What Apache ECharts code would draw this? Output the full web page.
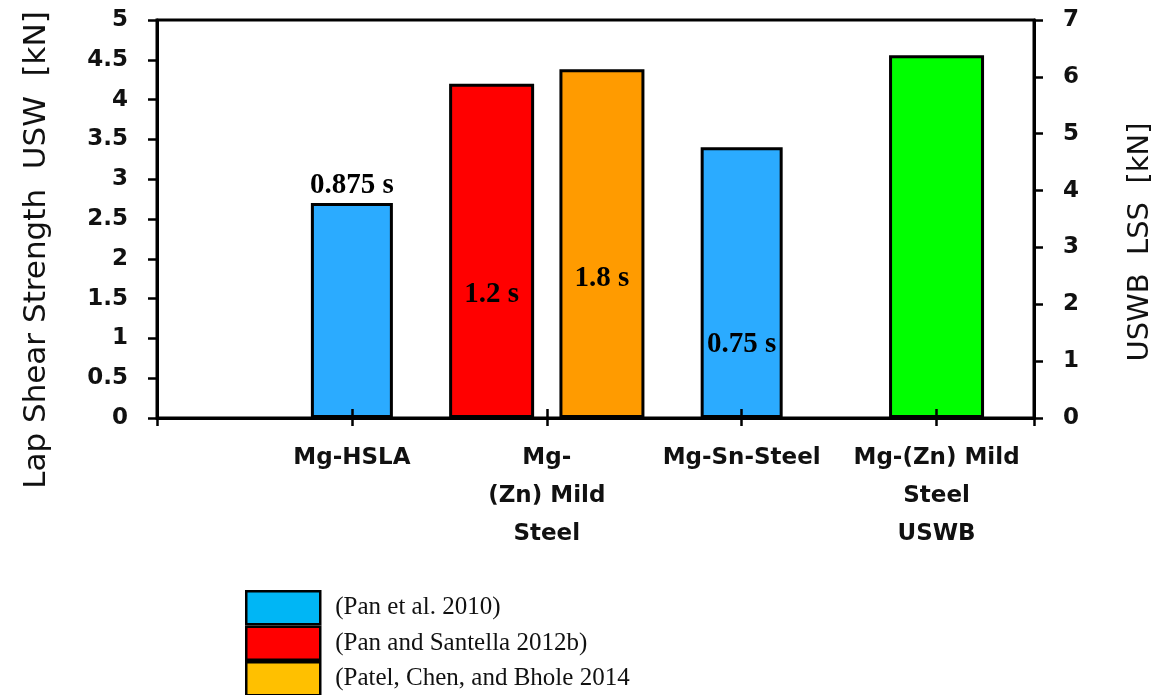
<!DOCTYPE html>
<html>
<head>
<meta charset="utf-8">
<script src="https://cdn.jsdelivr.net/npm/echarts@6/dist/echarts.min.js"></script>
<style>
  html, body { margin: 0; padding: 0; background: #fff; }
  #chart { width: 1163px; height: 695px; }
</style>
</head>
<body>
<div id="chart"></div>
<script>
// Joint categories along the x axis (slot 0 is left empty)
const categories = ['', 'Mg-HSLA', 'Mg-\n(Zn) Mild\nSteel', 'Mg-Sn-Steel', 'Mg-(Zn) Mild\nSteel\nUSWB'];

// Sources shown in the legend
const sourceNames = ['(Pan et al. 2010)', '(Pan and Santella 2012b)', '(Patel, Chen, and Bhole 2014'];

// Lap shear strength, USW [kN] (left axis)
const panSlots = [1, 3];
const panValues = [2.7, 3.4];
const panTimes = ['0.875 s', '0.75 s'];

const santellaSlot = 2;
const santellaValue = 4.2;
const santellaTime = '1.2 s';

const patelSlot = 2;
const patelValue = 4.38;
const patelTime = '1.8 s';

// USWB lap shear strength [kN] (right axis)
const uswbSlot = 4;
const uswbValue = 6.38;

// Two bars share the middle slot; shift them to either side of its tick
const pairShift = 0.283;

const labelFont = { fontFamily: 'Liberation Serif', fontWeight: 'bold', fontSize: 29, color: '#000' };
const axisFont = { fontFamily: 'DejaVu Sans', fontWeight: 'bold', fontSize: 23, color: '#111' };
const edge = { borderColor: '#000', borderWidth: 3 };

function slotAxis(extra) {
  return Object.assign({
    type: 'value', min: 0, max: 4.5, interval: 1, gridIndex: 0, position: 'bottom',
    axisLine: { show: false, onZero: false }, axisTick: { show: false },
    axisLabel: { show: false }, splitLine: { show: false }
  }, extra);
}

const chart = echarts.init(document.getElementById('chart'), null, { renderer: 'canvas' });
chart.setOption({
  backgroundColor: '#fff',
  animation: false,
  grid: {
    left: 157, right: 129, top: 20, bottom: 277,
    show: true, borderColor: '#000', borderWidth: 3, backgroundColor: 'transparent'
  },
  xAxis: [
    slotAxis({
      axisLine: { show: true, onZero: false, lineStyle: { color: '#000', width: 3 } },
      axisTick: { show: true, inside: false, length: 8, lineStyle: { color: '#000', width: 2.5 } },
      axisLabel: Object.assign({
        show: true, margin: 21, lineHeight: 38, align: 'center',
        formatter: v => (Number.isInteger(v) ? (categories[v] || '') : '')
      }, axisFont)
    }),
    // inner half of the crossing tick marks, drawn over the bars
    slotAxis({
      zlevel: 1, z: 5,
      axisTick: { show: true, inside: true, length: 9, lineStyle: { color: '#000', width: 2.5 } }
    }),
    slotAxis({ show: false }),
    slotAxis({ show: false })
  ],
  yAxis: [
    {
      type: 'value', min: 0, max: 5, interval: 0.5, position: 'left',
      axisLine: { show: true, onZero: false, lineStyle: { color: '#000', width: 3 } },
      axisTick: { show: true, length: 9, lineStyle: { color: '#000', width: 2.5 } },
      axisLabel: Object.assign({ margin: 29 }, axisFont),
      splitLine: { show: false }
    },
    {
      type: 'value', min: 0, max: 7, interval: 1, position: 'right',
      axisLine: { show: true, onZero: false, lineStyle: { color: '#000', width: 3 } },
      axisTick: { show: true, length: 9, lineStyle: { color: '#000', width: 2.5 } },
      axisLabel: Object.assign({ margin: 29 }, axisFont),
      splitLine: { show: false }
    }
  ],
  legend: {
    orient: 'vertical', left: 245, top: 590, height: 160, itemGap: 0, padding: 0,
    itemWidth: 74, itemHeight: 33, icon: 'rect',
    itemStyle: { borderColor: '#000', borderWidth: 2.5 },
    textStyle: {
      fontFamily: 'Liberation Serif', fontSize: 25, lineHeight: 30, color: '#111',
      padding: [0, 0, 0, 10]
    },
    data: [
      { name: sourceNames[0], itemStyle: { color: '#00B6F5' } },
      { name: sourceNames[1], itemStyle: { color: '#FF0000' } },
      { name: sourceNames[2], itemStyle: { color: '#FFC000' } }
    ]
  },
  graphic: [
    {
      type: 'text', x: 37, y: 250, rotation: Math.PI / 2,
      style: {
        text: 'Lap Shear Strength  USW  [kN]', fill: '#111',
        font: '31px "DejaVu Sans"', align: 'center', verticalAlign: 'middle'
      }
    },
    {
      type: 'text', x: 1140, y: 242, rotation: Math.PI / 2,
      style: {
        text: 'USWB  LSS  [kN]', fill: '#111',
        font: '29px "DejaVu Sans"', align: 'center', verticalAlign: 'middle'
      }
    }
  ],
  series: [
    {
      name: sourceNames[0], type: 'bar', xAxisIndex: 0, yAxisIndex: 0, barWidth: 82,
      itemStyle: Object.assign({ color: '#2BABFF' }, edge),
      label: Object.assign({ show: true, formatter: p => panTimes[p.dataIndex] }, labelFont),
      data: panValues.map((v, i) => ({
        value: [panSlots[i], v],
        label: i === 0
          ? { position: 'top', distance: 3 }
          : { position: ['50%', '73%'], align: 'center', verticalAlign: 'middle' }
      }))
    },
    {
      name: sourceNames[1], type: 'bar', xAxisIndex: 1, yAxisIndex: 0, barWidth: 85,
      itemStyle: Object.assign({ color: '#FF0000' }, edge),
      label: Object.assign({
        show: true, formatter: santellaTime,
        position: ['50%', '63%'], align: 'center', verticalAlign: 'middle'
      }, labelFont),
      data: [[santellaSlot - pairShift, santellaValue]]
    },
    {
      name: sourceNames[2], type: 'bar', xAxisIndex: 2, yAxisIndex: 0, barWidth: 85,
      itemStyle: Object.assign({ color: '#FF9B00' }, edge),
      label: Object.assign({
        show: true, formatter: patelTime,
        position: ['50%', '60%'], align: 'center', verticalAlign: 'middle'
      }, labelFont),
      data: [[patelSlot + pairShift, patelValue]]
    },
    {
      name: 'Mg-(Zn) Mild Steel USWB', type: 'bar', xAxisIndex: 3, yAxisIndex: 1, barWidth: 95,
      itemStyle: Object.assign({ color: '#00FF00' }, edge),
      data: [[uswbSlot, uswbValue]]
    }
  ]
});
</script>
</body>
</html>
